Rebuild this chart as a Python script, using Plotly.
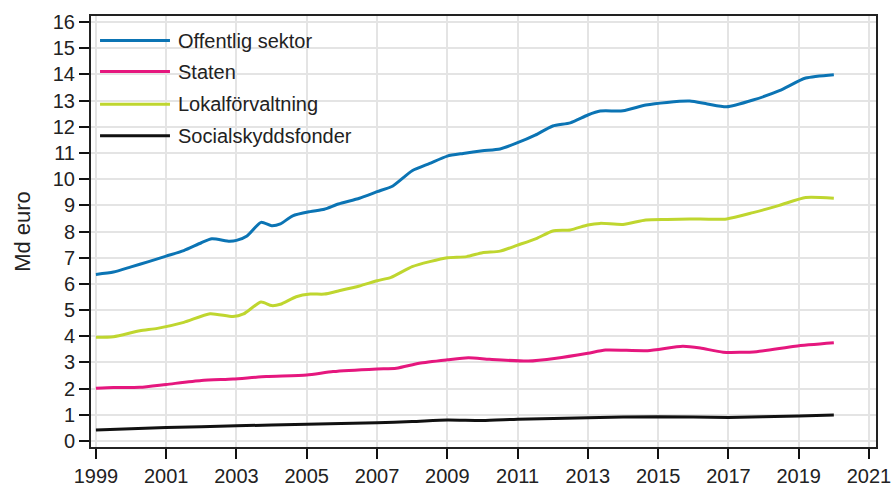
import plotly.graph_objects as go

# ---- data ----
series_names = ["Offentlig sektor", "Staten", "Lokalförvaltning", "Socialskyddsfonder"]
series_colors = ["#0B74B4", "#E5177E", "#BFD62F", "#111111"]

years_offentlig = [1999.0, 1999.5, 2000.0, 2000.5, 2001.0, 2001.5, 2002.0, 2002.3, 2002.8, 2003.0,
                   2003.3, 2003.7, 2004.0, 2004.25, 2004.6, 2005.1, 2005.5, 2005.9, 2006.5, 2007.0,
                   2007.45, 2008.0, 2008.5, 2009.0, 2009.45, 2010.0, 2010.5, 2011.0, 2011.5, 2012.0,
                   2012.5, 2013.0, 2013.35, 2014.0, 2014.65, 2015.25, 2015.9, 2016.4, 2016.95, 2017.7,
                   2018.45, 2019.2, 2020.0]
offentlig = [6.36, 6.45, 6.65, 6.85, 7.06, 7.27, 7.57, 7.72, 7.63, 7.66,
             7.83, 8.35, 8.22, 8.29, 8.6, 8.76, 8.85, 9.05, 9.27, 9.52,
             9.74, 10.32, 10.6, 10.88, 10.98, 11.08, 11.15, 11.39, 11.68, 12.03,
             12.15, 12.45, 12.6, 12.61, 12.83, 12.93, 12.98, 12.87, 12.76, 13.02,
             13.38, 13.86, 13.99]

years_lokal = [1999.0, 1999.5, 2000.25, 2000.75, 2001.5, 2002.25, 2002.9, 2003.2, 2003.7, 2004.0,
               2004.25, 2004.7, 2005.1, 2005.5, 2005.9, 2006.5, 2007.0, 2007.4, 2008.0, 2008.5,
               2009.0, 2009.55, 2010.0, 2010.5, 2011.0, 2011.55, 2012.0, 2012.5, 2013.0, 2013.35,
               2014.0, 2014.65, 2015.25, 2015.9, 2016.95, 2017.7, 2018.45, 2019.2, 2020.0]
lokal = [3.96, 3.98, 4.21, 4.3, 4.53, 4.86, 4.75, 4.85, 5.31, 5.17,
         5.22, 5.51, 5.61, 5.61, 5.73, 5.92, 6.12, 6.25, 6.66, 6.85,
         7.0, 7.04, 7.19, 7.25, 7.48, 7.74, 8.02, 8.06, 8.25, 8.31,
         8.27, 8.44, 8.46, 8.48, 8.48, 8.72, 9.0, 9.3, 9.27]

years_staten = [1999.0, 1999.5, 2000.25, 2001.0, 2002.0, 2002.9, 2003.85, 2005.0, 2005.75, 2007.0,
                2007.55, 2008.2, 2009.0, 2009.6, 2010.2, 2011.3, 2012.1, 2013.0, 2013.5, 2014.7,
                2015.7, 2016.2, 2016.85, 2017.8, 2018.9, 2020.0]
staten = [2.01, 2.04, 2.05, 2.16, 2.31, 2.37, 2.46, 2.52, 2.65, 2.75,
          2.78, 2.97, 3.1, 3.18, 3.12, 3.05, 3.16, 3.35, 3.47, 3.45,
          3.62, 3.55, 3.39, 3.41, 3.62, 3.75]

years_social = [1999, 2001, 2003, 2005, 2007, 2008, 2009, 2010, 2011, 2013, 2015, 2017, 2019, 2020]
social = [0.42, 0.51, 0.58, 0.64, 0.70, 0.74, 0.80, 0.78, 0.83, 0.89, 0.93, 0.90, 0.95, 0.99]

x_tick_vals = list(range(1999, 2022, 2))
y_tick_vals = list(range(0, 17))
y_title = "Md euro"

FONT = "Liberation Sans, Arial, sans-serif"
TXT = "#222222"

fig = go.Figure()
xs = [years_offentlig, years_staten, years_lokal, years_social]
ys = [offentlig, staten, lokal, social]
for name, color, x, y in zip(series_names, series_colors, xs, ys):
    fig.add_trace(go.Scatter(x=x, y=y, name=name, mode="lines",
                             line=dict(color=color, width=3, shape="spline", smoothing=0.6),
                             showlegend=False))

# custom legend (long line samples as in the reference)
leg_y = [0.943, 0.871, 0.795, 0.722]
for name, color, yy in zip(series_names, series_colors, leg_y):
    fig.add_shape(type="line", xref="paper", yref="paper", x0=0.0115, x1=0.1006, y0=yy, y1=yy,
                  line=dict(color=color, width=3))
    fig.add_annotation(xref="paper", yref="paper", x=0.1085, y=yy, text=name, showarrow=False,
                       xanchor="left", yanchor="middle", font=dict(family=FONT, size=20, color=TXT))

fig.update_layout(
    width=893, height=488,
    margin=dict(l=91, r=17, t=16, b=41),
    paper_bgcolor="white", plot_bgcolor="white",
    font=dict(family=FONT, size=20, color=TXT),
)
fig.update_xaxes(range=[1998.86, 2021.2], tickvals=x_tick_vals, ticks="outside", ticklen=10,
                 tickwidth=2, tickcolor="#111", showline=True, linecolor="#222", linewidth=2,
                 mirror=True, showgrid=True, gridcolor="#E4E4E4", gridwidth=2, zeroline=False,
                 tickfont=dict(size=20), automargin=False, ticklabelstandoff=0)
fig.update_yaxes(range=[-0.23, 16.23], tickvals=y_tick_vals, ticks="outside", ticklen=10,
                 tickwidth=2, tickcolor="#111", showline=True, linecolor="#222", linewidth=2,
                 mirror=True, showgrid=True, gridcolor="#E4E4E4", gridwidth=2, zeroline=False,
                 tickfont=dict(size=20), automargin=False,
                 title=dict(text=y_title, font=dict(size=22), standoff=16))

# remove the page's default body margin so the figure fills the window exactly
fig.write_html("out.html",
               config={"displayModeBar": False},
               post_script="document.body.style.margin='0';document.body.style.overflow='hidden';")
